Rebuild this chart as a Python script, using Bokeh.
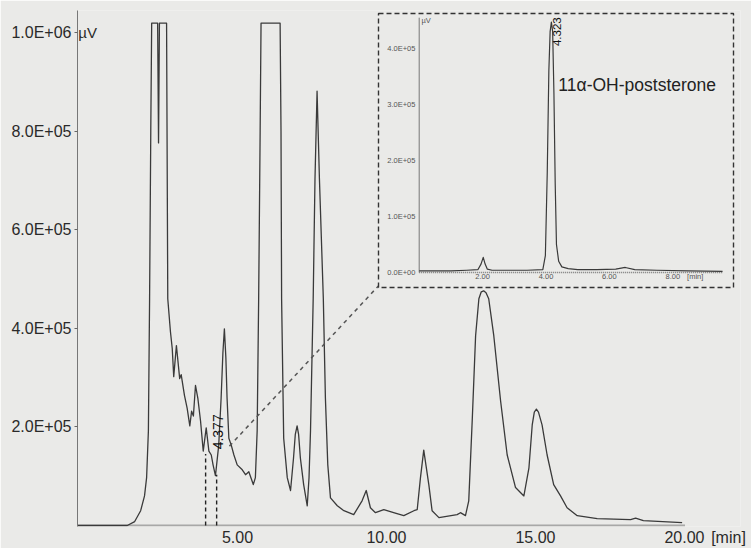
import math
from bokeh.plotting import figure
from bokeh.models import Range1d, FixedTicker
from bokeh.embed import file_html
from bokeh.resources import INLINE
from bokeh.core.properties import value

# ---------------- data ----------------
SAT = 10.19  # detector saturation level (x1e5 uV)

# main chromatogram: retention time [min] and signal [x1e5 uV]
main_time = [-0.37, 1.30, 1.55, 1.75, 1.88, 1.95, 2.01, 2.05, 2.09, 2.12, 2.32, 2.35, 2.38, 2.62,
             2.66, 2.75, 2.81, 2.86, 2.95, 3.06, 3.11, 3.22, 3.31, 3.40, 3.46, 3.52, 3.59, 3.67,
             3.76, 3.85, 3.95, 4.04, 4.12, 4.18, 4.26, 4.37, 4.45, 4.51, 4.56, 4.61, 4.65, 4.71,
             4.79, 4.88, 4.99, 5.16, 5.27, 5.38, 5.53, 5.60, 5.66, 5.71, 5.76, 5.79, 6.43, 6.46,
             6.48, 6.55, 6.67, 6.78, 6.88, 6.94, 7.00, 7.05, 7.11, 7.22, 7.34, 7.40, 7.45, 7.54,
             7.60, 7.67, 7.75, 7.88, 7.95, 8.03, 8.12, 8.35, 8.57, 8.90, 9.18, 9.32, 9.46, 9.63,
             9.91, 10.24, 10.58, 10.92, 11.03, 11.14, 11.25, 11.33, 11.42, 11.53, 11.76, 12.37,
             12.48, 12.65, 12.76, 12.88, 12.99, 13.10, 13.18, 13.26, 13.34, 13.43, 13.60, 13.83,
             14.05, 14.33, 14.61, 14.78, 14.89, 14.96, 15.03, 15.10, 15.22, 15.39, 15.61, 15.84,
             16.06, 16.40, 17.07, 18.19, 18.36, 18.62, 19.92]
main_signal = [0.0, 0.0, 0.08, 0.30, 0.60, 0.97, 1.92, 4.6, 8.0, SAT, SAT, 7.76, SAT, SAT,
               4.6, 3.93, 3.59, 3.02, 3.65, 2.98, 3.06, 2.64, 2.38, 2.02, 2.32, 2.22, 2.84, 2.58,
               2.12, 1.51, 1.98, 1.51, 1.43, 1.23, 1.01, 1.63, 2.58, 3.5, 3.99, 3.4, 2.58, 1.77,
               1.63, 1.43, 1.23, 1.13, 1.03, 1.09, 0.83, 0.97, 1.92, 4.6, 8.0, SAT, SAT, 8.0,
               4.6, 1.77, 0.97, 0.71, 1.37, 1.85, 2.02, 1.85, 1.37, 0.83, 0.40, 0.97, 1.92, 4.6,
               7.02, 8.81, 7.02, 4.6, 2.58, 1.23, 0.56, 0.40, 0.30, 0.22, 0.50, 0.71, 0.36, 0.26,
               0.32, 0.26, 0.20, 0.30, 0.32, 0.97, 1.53, 1.2, 0.83, 0.30, 0.16, 0.22,
               0.26, 0.20, 0.50, 2.18, 3.85, 4.60, 4.74, 4.76, 4.72, 4.60, 3.85, 2.52,
               1.43, 0.77, 0.60, 1.17, 2.04, 2.30, 2.36, 2.30, 2.04, 1.43, 0.83, 0.60,
               0.36, 0.20, 0.14, 0.12, 0.15, 0.10, 0.06]
main_signal = [v * 1e5 for v in main_signal]

main_x_ticks = [5, 10, 15, 20]
main_x_labels = ["5.00", "10.00", "15.00", "20.00"]
main_x_unit = "[min]"
main_y_ticks = [200000, 400000, 600000, 800000, 1000000]
main_y_labels = ["2.0E+05", "4.0E+05", "6.0E+05", "8.0E+05", "1.0E+06"]
main_y_unit = "µV"

# zoomed window marked in the main chromatogram
window_time = [3.93, 4.30]
window_signal = [1.45e5, 1.03e5]
main_peak_rt = "4.377"
main_peak_pos = (4.35, 1.9e5)

# inset chromatogram (purified product)
inset_time = [0.0, 0.5, 1.0, 1.5, 1.85, 1.95, 2.02, 2.08, 2.15, 2.3, 2.8, 3.4, 3.9, 3.98, 4.04,
              4.09, 4.13, 4.17, 4.21, 4.25, 4.29, 4.33, 4.4, 4.5, 4.7, 5.0, 5.6, 6.2, 6.5, 6.8,
              7.5, 8.5, 9.57]
inset_signal = [0.03, 0.03, 0.03, 0.04, 0.05, 0.15, 0.27, 0.15, 0.06, 0.04, 0.04, 0.04, 0.05,
                0.3, 1.8, 3.6, 4.3, 4.47, 4.3, 3.2, 1.6, 0.5, 0.2, 0.1, 0.07, 0.05, 0.05, 0.06,
                0.09, 0.05, 0.04, 0.03, 0.02]
inset_signal = [v * 1e5 for v in inset_signal]
inset_x_ticks = [2, 4, 6, 8]
inset_x_labels = ["2.00", "4.00", "6.00", "8.00"]
inset_y_ticks = [0, 1e5, 2e5, 3e5, 4e5]
inset_y_labels = ["0.0E+00", "1.0E+05", "2.0E+05", "3.0E+05", "4.0E+05"]
inset_x_extent = 9.57
inset_y_extent = 4.55e5
inset_peak_rt = "4.323"
inset_peak_pos = (4.36, 4.30e5)
compound = "11α-OH-poststerone"
compound_pos = (4.39, 3.34e5)

# ---------------- layout (pixels) ----------------
W, H = 751, 548
FL, FR, FT, FB = 77, 740, 10, 526
BASE = 525                 # px row of zero signal in the main plot
MX0, MXS = 88.0, 29.8      # main: px of t=0, px per min
MYS = 49.3                 # main: px per 1e5 uV
IX0, IXS = 418.7, 31.7     # inset: px of t=0, px per min
IY0, IYS = 272.0, 56.0     # inset: px of 0, px per 1e5 uV
UNIT_TICK = (728 - MX0) / MXS

x_start, x_end = (FL - MX0) / MXS, (FR - MX0) / MXS
y_start, y_end = -(FB - BASE) / MYS * 1e5, (BASE - FT) / MYS * 1e5
ix_start, ix_end = (FL - IX0) / IXS, (FR - IX0) / IXS
iy_start, iy_end = -(FB - IY0) / IYS * 1e5, (IY0 - FT) / IYS * 1e5

BG = "#eaeae8"
INK = "#2a2a2a"
FONT = "Liberation Sans"

p = figure(width=W, height=H, x_range=Range1d(x_start, x_end), y_range=Range1d(y_start, y_end),
           output_backend="svg", toolbar_location=None,
           min_border_left=FL, min_border_right=W - FR, min_border_top=FT,
           min_border_bottom=H - FB)
p.extra_x_ranges = {"ix": Range1d(ix_start, ix_end)}
p.extra_y_ranges = {"iy": Range1d(iy_start, iy_end)}
p.background_fill_color = BG
p.border_fill_color = BG
p.outline_line_color = None
p.xgrid.visible = False
p.ygrid.visible = False

xa = p.xaxis[0]
xa.ticker = FixedTicker(ticks=main_x_ticks + [UNIT_TICK])
overrides = dict(zip(main_x_ticks, main_x_labels))
overrides[UNIT_TICK] = main_x_unit
xa.major_label_overrides = overrides
xa.axis_line_color = None
xa.major_tick_line_color = None
xa.major_tick_out = 0
xa.major_tick_in = 0
xa.minor_tick_line_color = None
xa.minor_tick_out = 0
xa.major_label_standoff = 2
xa.major_label_text_font = FONT
xa.major_label_text_font_size = "16px"
xa.major_label_text_color = INK

ya = p.yaxis[0]
ya.ticker = FixedTicker(ticks=main_y_ticks)
ya.major_label_overrides = dict(zip(main_y_ticks, main_y_labels))
ya.axis_line_color = "#777"
ya.axis_line_width = 1
ya.major_tick_out = 3
ya.major_tick_in = 0
ya.major_tick_line_color = "#666"
ya.minor_tick_line_color = None
ya.major_label_standoff = 3
ya.major_label_text_font = FONT
ya.major_label_text_font_size = "16px"
ya.major_label_text_color = INK

# main time axis line (ends at 20 min)
p.line([x_start, main_x_ticks[-1]], [0, 0], line_color="#666", line_width=1.8, line_dash="1 1")

# main trace
p.line(main_time, main_signal, line_color="#3a3a3a", line_width=1.3, line_join="round")

# unit of the signal axis
p.text(x=[-0.34], y=[main_y_ticks[-1]], text=[main_y_unit], text_align="left",
       text_baseline="middle", text_font=value(FONT), text_font_size="15px", text_color=INK)

# marked window
p.segment(x0=window_time, y0=[0, 0], x1=window_time, y1=window_signal,
          line_color="#222", line_width=1.4, line_dash="4 3")
p.text(x=[main_peak_pos[0]], y=[main_peak_pos[1]], text=[main_peak_rt], angle=math.pi / 2,
       text_align="center", text_baseline="middle", text_font=value(FONT),
       text_font_size="14px", text_color="#111")

# connector from window to inset
p.line([4.73, 9.73], [1.61e5, 4.86e5], line_color="#555", line_width=1.5, line_dash="4 4")

# inset box
p.quad(left=[-1.284], right=[9.915], bottom=[-0.268e5], top=[4.625e5], fill_color=None,
       line_color="#333", line_width=1.4, line_dash="5 3", x_range_name="ix", y_range_name="iy")
# inset axes
p.line([0, 0], [0, inset_y_extent], line_color="#777", line_width=1,
       x_range_name="ix", y_range_name="iy")
p.line([0, inset_x_extent], [0, 0], line_color="#777", line_width=1.4, line_dash="1 1",
       x_range_name="ix", y_range_name="iy")
# inset trace
p.line(inset_time, inset_signal, line_color="#3a3a3a", line_width=1.2, line_join="round",
       x_range_name="ix", y_range_name="iy")
# inset tick labels
p.text(x=[-0.12] * len(inset_y_ticks), y=inset_y_ticks, text=inset_y_labels,
       text_align="right", text_baseline="middle", text_font=value(FONT),
       text_font_size="7.5px", text_color="#555", x_range_name="ix", y_range_name="iy")
p.text(x=inset_x_ticks, y=[-0.08e5] * len(inset_x_ticks), text=inset_x_labels,
       text_align="center", text_baseline="middle", text_font=value(FONT),
       text_font_size="7.5px", text_color="#555", x_range_name="ix", y_range_name="iy")
p.text(x=[8.45], y=[-0.08e5], text=["[min]"], text_align="left", text_baseline="middle",
       text_font=value(FONT), text_font_size="7.5px", text_color="#555",
       x_range_name="ix", y_range_name="iy")
p.text(x=[0.07], y=[4.5e5], text=["µV"], text_align="left", text_baseline="middle",
       text_font=value(FONT), text_font_size="7.5px", text_color="#555",
       x_range_name="ix", y_range_name="iy")
p.text(x=[inset_peak_pos[0]], y=[inset_peak_pos[1]], text=[inset_peak_rt], angle=math.pi / 2,
       text_align="center", text_baseline="middle", text_font=value(FONT),
       text_font_size="11.5px", text_color="#111", x_range_name="ix", y_range_name="iy")
p.text(x=[compound_pos[0]], y=[compound_pos[1]], text=[compound], text_align="left",
       text_baseline="middle", text_font=value(FONT), text_font_size="17.5px",
       text_color="#222", x_range_name="ix", y_range_name="iy")

open("out.html", "w").write(file_html(p, INLINE))
